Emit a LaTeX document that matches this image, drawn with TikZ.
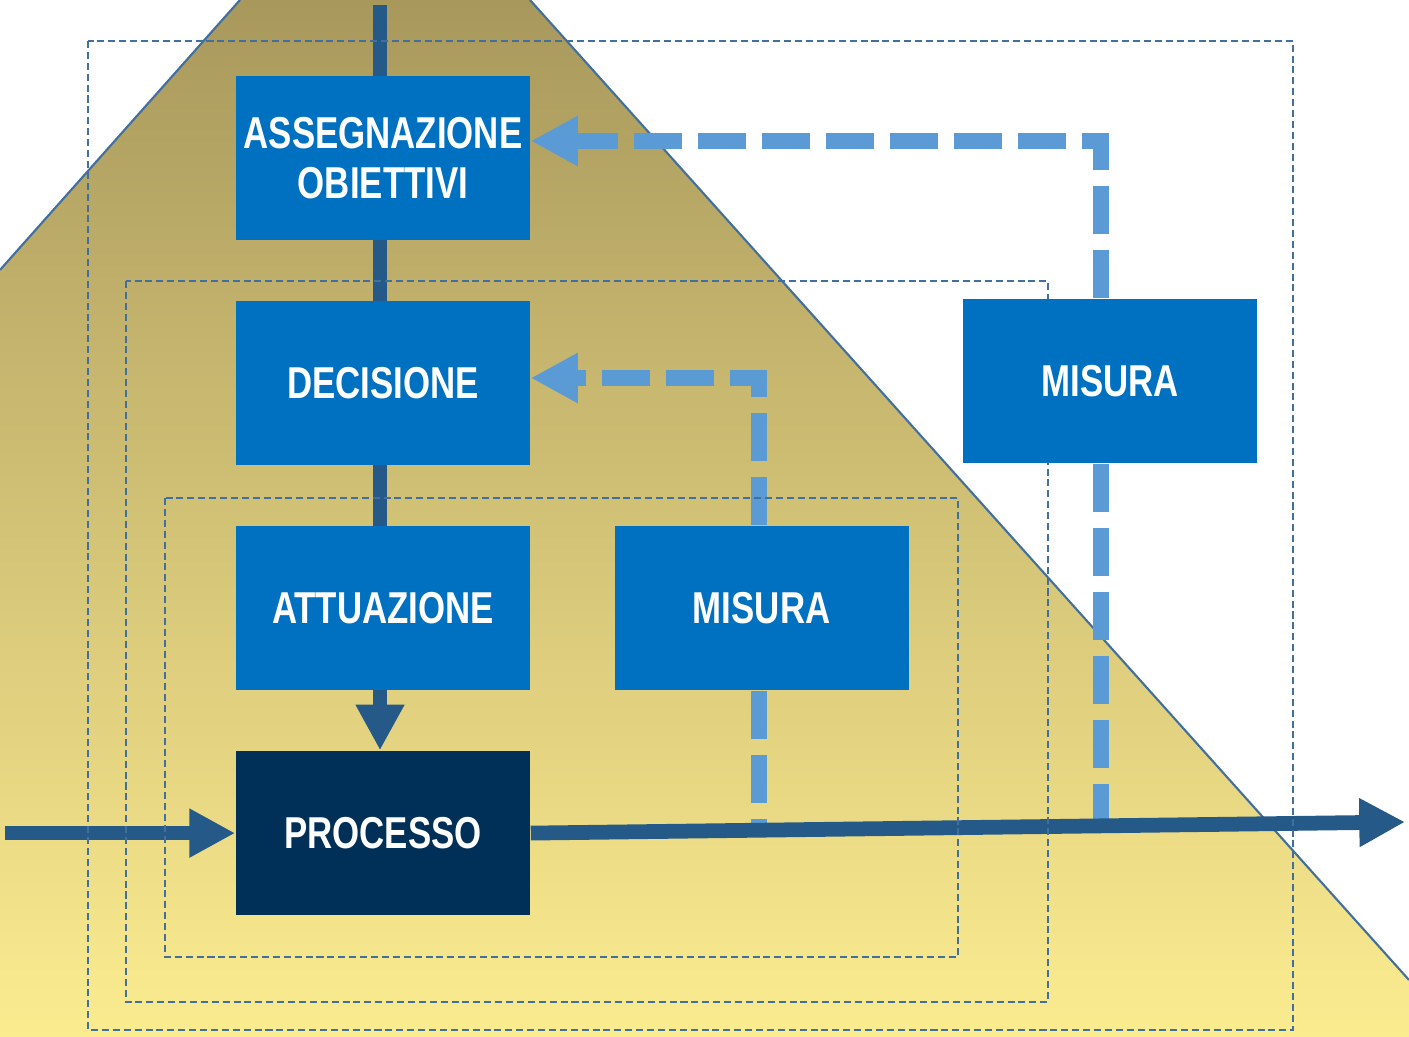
\documentclass[tikz,border=0pt]{standalone}
\usepackage{fontspec}
\newfontfamily\boxfont[FakeStretch=0.78]{Liberation Sans}
\usepackage{tikz}
\usetikzlibrary{
  arrows.meta,
  positioning,
}
\definecolor{boxblue}{HTML}{0070C0}
\definecolor{procnavy}{HTML}{003057}
\definecolor{flowblue}{HTML}{255A88}
\definecolor{fbblue}{HTML}{5B9BD5}
\definecolor{loopblue}{HTML}{41709F}
\definecolor{goldtop}{HTML}{A8985C}
\definecolor{goldbot}{HTML}{FCEC90}
\pgfdeclarelayer{back}
\pgfdeclarelayer{flow}
\pgfsetlayers{back,flow,main}

\begin{document}
\begin{tikzpicture}[
  x=0.01cm, y=-0.01cm,
  node distance=0.595cm and 0.83cm,
  every node/.style={font=\boxfont\bfseries\fontsize{12.7}{14.2}\selectfont, text=white},
  box/.style={
    rectangle, fill=boxblue, inner sep=0pt,
    minimum width=2.94cm, minimum height=1.64cm, align=center,
  },
  procbox/.style={box, fill=procnavy},
  mainflow/.style={draw=flowblue, line width=4.2pt},
  flowtip/.style={-{Triangle[length=13pt, width=13pt]}},
  feedback/.style={
    draw=fbblue, line width=4.3pt,
    dash pattern=on 13.6pt off 4.6pt,
    -{Triangle[length=13.4pt, width=13.4pt]},
  },
  ctrlloop/.style={draw=loopblue, line width=0.6pt, dash pattern=on 2pt off 1.1pt},
]
  \useasboundingbox (0,0) rectangle (1409,1037);

  % Background trapezoid
  \begin{pgfonlayer}{back}
    \fill[top color=goldtop, bottom color=goldbot]
      (240,0) -- (530,0) -- (1409,980) -- (1409,1037) -- (0,1037) -- (0,270) -- cycle;
    \draw[loopblue, line width=0.6pt] (0,270) -- (240,0);
    \draw[loopblue, line width=0.6pt] (530,0) -- (1409,980);
  \end{pgfonlayer}

  % Control loops
  \draw[ctrlloop] (88,41) rectangle (1293,1030);
  \draw[ctrlloop] (126,281) rectangle (1048,1002);
  \draw[ctrlloop] (165,498) rectangle (958,957);

  % Blocks
  \node[box] (ass) at (383,158) {ASSEGNAZIONE\\OBIETTIVI};
  \node[box, below=of ass] (dec) {DECISIONE};
  \node[box, below=of dec] (att) {ATTUAZIONE};
  \node[procbox, below=of att] (proc) {PROCESSO};
  \node[box, right=of att] (mis1) {MISURA};
  \node[box] (mis2) at (1110,381) {MISURA};

  % Free ends
  \coordinate (top) at (380,5);
  \coordinate (in) at (5,0);
  \coordinate (out) at (1405,822);
  \coordinate (fbout) at (1101,141);
  \coordinate (fbin) at (759,378);

  \begin{pgfonlayer}{flow}
    % Feedback loops
    \draw[feedback] (mis2.north -| fbout) |- (ass.east |- fbout);
    \draw[feedback, -] (mis2.south -| fbout) -- (fbout |- 0,826);
    \draw[feedback] (mis1.north -| fbin) |- (dec.east |- fbin);
    \draw[feedback, -] (mis1.south -| fbin) -- (fbin |- 0,828);

    % Main chain
    \draw[mainflow, flowtip] (top) -- (top |- proc.north);
    \draw[mainflow, flowtip] (in |- proc.west) -- (proc.west);
    \draw[mainflow, flowtip] (proc.east) -- (out);
  \end{pgfonlayer}

\end{tikzpicture}
\end{document}
